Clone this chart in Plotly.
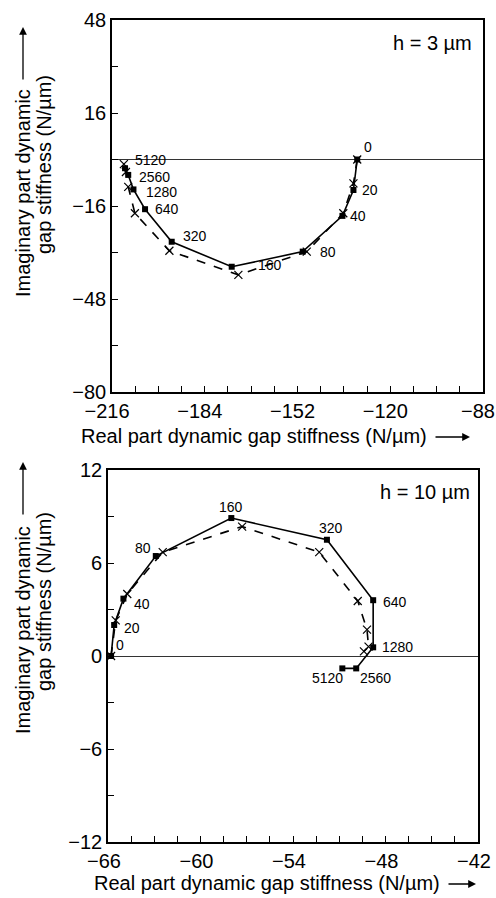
import plotly.graph_objects as go

W, H = 496, 898

freq_labels = ["0", "20", "40", "80", "160", "320", "640", "1280", "2560", "5120"]

# h = 3 um
re_solid_3 = [-131.4, -132.7, -136.5, -150.2, -174.7, -195.4, -204.6, -208.6, -210.4, -211.5]
im_solid_3 = [0.0, -10.5, -19.4, -31.7, -36.9, -28.3, -17.1, -10.3, -5.3, -3.0]
re_dash_3 = [-131.4, -132.7, -136.2, -148.8, -172.4, -196.2, -208.1, -210.4, -211.2, -211.9]
im_dash_3 = [0.0, -8.2, -18.5, -31.7, -39.7, -31.4, -18.5, -9.4, -4.3, -1.6]

# h = 10 um
re_solid_10 = [-65.8, -65.6, -65.0, -62.9, -58.0, -51.8, -48.8, -48.8, -49.9, -50.8]
im_solid_10 = [0.0, 2.0, 3.7, 6.45, 8.9, 7.5, 3.6, 0.56, -0.8, -0.8]
re_dash_10 = [-65.8, -65.5, -64.75, -62.45, -57.3, -52.3, -49.8, -49.2, -49.1, -49.4]
im_dash_10 = [0.0, 2.3, 4.0, 6.7, 8.35, 6.7, 3.55, 1.7, 0.6, 0.3]

# label pixel offsets (style)
off_3 = [(11, 13), (17, 0), (16, 0), (25, 0), (38, 2), (23, 6), (22, 0), (28, -3), (26, -2), (25, 8)]
off_10 = [(9, 11), (18, -3), (19, -5), (-13, 8), (0, 11), (4, 12), (22, -2), (24, 0), (19, -10), (-15, -10)]

FONT = "Liberation Sans, Arial, Helvetica, sans-serif"


def px(x):
    return x / W


def py(y):
    return 1 - y / H


fig = go.Figure()

line_solid = dict(color="black", width=1.6)
line_dash = dict(color="black", width=1.6, dash="dash")
m_sq = dict(symbol="square", size=6, color="black")
m_x = dict(symbol="x-thin", size=8, line=dict(color="black", width=1.2), color="black")

fig.add_trace(go.Scatter(x=re_dash_3, y=im_dash_3, mode="lines+markers", line=line_dash,
                         marker=m_x, xaxis="x", yaxis="y", showlegend=False))
fig.add_trace(go.Scatter(x=re_solid_3, y=im_solid_3, mode="lines+markers", line=line_solid,
                         marker=m_sq, xaxis="x", yaxis="y", showlegend=False))
fig.add_trace(go.Scatter(x=re_dash_10, y=im_dash_10, mode="lines+markers", line=line_dash,
                         marker=m_x, xaxis="x2", yaxis="y2", showlegend=False))
fig.add_trace(go.Scatter(x=re_solid_10, y=im_solid_10, mode="lines+markers", line=line_solid,
                         marker=m_sq, xaxis="x2", yaxis="y2", showlegend=False))

ax_common = dict(showline=True, linecolor="black", linewidth=1.6, mirror=True,
                 ticks="inside", ticklen=6, tickwidth=1, tickcolor="black",
                 showgrid=False, tickfont=dict(family=FONT, size=20, color="black"),
                 layer="above traces", automargin=False, ticklabeloverflow="allow")

annotations = []
for i, lab in enumerate(freq_labels):
    annotations.append(dict(x=re_solid_3[i], y=im_solid_3[i], xref="x", yref="y", text=lab,
                            showarrow=False, xshift=off_3[i][0], yshift=off_3[i][1],
                            xanchor="center", yanchor="middle", borderpad=0,
                            font=dict(family=FONT, size=14, color="black")))
    annotations.append(dict(x=re_solid_10[i], y=im_solid_10[i], xref="x2", yref="y2", text=lab,
                            showarrow=False, xshift=off_10[i][0], yshift=off_10[i][1],
                            xanchor="center", yanchor="middle", borderpad=0,
                            font=dict(family=FONT, size=14, color="black")))

tf = dict(family=FONT, size=20, color="black")
# panel labels
annotations.append(dict(x=px(432), y=py(43), xref="paper", yref="paper", text="h = 3 µm",
                        showarrow=False, xanchor="center", yanchor="middle", font=tf))
annotations.append(dict(x=px(425), y=py(492), xref="paper", yref="paper", text="h = 10 µm",
                        showarrow=False, xanchor="center", yanchor="middle", font=tf))

xtitle = "Real part dynamic gap stiffness (N/µm)"
for ty, tx_end, head, alen in [(436, 429, 470, 36), (883, 442, 476, 29)]:
    annotations.append(dict(x=px(tx_end), y=py(ty), xref="paper", yref="paper", text=xtitle,
                            showarrow=False, xanchor="right", yanchor="middle", font=tf))
    annotations.append(dict(x=px(head), y=py(ty + 1), xref="paper", yref="paper", text="",
                            showarrow=True, ax=-alen, ay=0, arrowhead=2, arrowsize=1.2,
                            arrowwidth=1.3, arrowcolor="black"))

for (cy1, cy2, head) in [(193, 165, 27), (630, 602, 462)]:
    annotations.append(dict(x=px(23), y=py(cy1), xref="paper", yref="paper",
                            text="Imaginary part dynamic", textangle=-90, showarrow=False,
                            xanchor="center", yanchor="middle", font=tf))
    annotations.append(dict(x=px(44), y=py(cy2), xref="paper", yref="paper",
                            text="gap stiffness (N/µm)", textangle=-90, showarrow=False,
                            xanchor="center", yanchor="middle", font=tf))
    annotations.append(dict(x=px(23), y=py(head), xref="paper", yref="paper", text="",
                            showarrow=True, ax=0, ay=54, arrowhead=2, arrowsize=1.2,
                            arrowwidth=1.3, arrowcolor="black"))

fig.update_layout(
    width=W, height=H, margin=dict(l=0, r=0, t=0, b=0, autoexpand=False),
    paper_bgcolor="white", plot_bgcolor="white",
    xaxis=dict(**ax_common, domain=[px(112), px(483)], range=[-216, -88], tick0=-216, dtick=32,
               minor=dict(dtick=8, ticks="inside", ticklen=6, tickcolor="black"), anchor="y",
               zeroline=False, ticklabelshift=-5),
    yaxis=dict(**ax_common, domain=[py(392), py(20)], range=[-80, 48], tick0=-80, dtick=32,
               minor=dict(dtick=16, ticks="inside", ticklen=6, tickcolor="black"), anchor="x",
               zeroline=True, zerolinecolor="#333", zerolinewidth=1),
    xaxis2=dict(**ax_common, domain=[px(108), px(478)], range=[-66, -42], tick0=-66, dtick=6,
                minor=dict(dtick=1.5, ticks="inside", ticklen=6, tickcolor="black"), anchor="y2",
                zeroline=False, ticklabelshift=-4),
    yaxis2=dict(**ax_common, domain=[py(842), py(470)], range=[-12, 12], tick0=-12, dtick=6,
                minor=dict(dtick=3, ticks="inside", ticklen=6, tickcolor="black"), anchor="x2",
                zeroline=True, zerolinecolor="#333", zerolinewidth=1),
    annotations=annotations,
)

fig.write_html("out.html")
